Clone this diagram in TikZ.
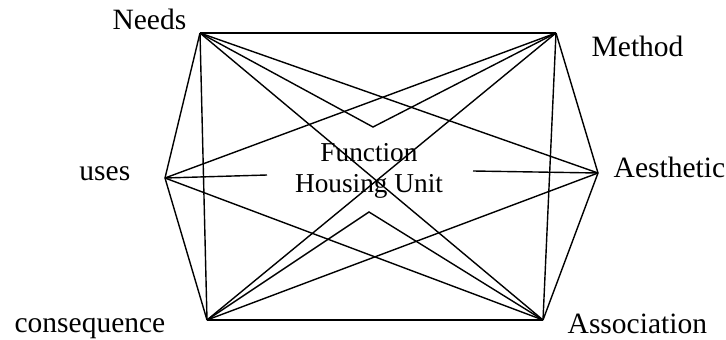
\documentclass[tikz,border=0pt]{standalone}
\usepackage{fontspec}
\setmainfont{Liberation Serif}
\usetikzlibrary{positioning}

\begin{document}
\begin{tikzpicture}[x=1pt,y=-1pt,line width=1.4pt,
        lbl/.style={inner sep=0pt,font=\fontsize{29.5}{33}\selectfont},
        mid/.style={inner sep=0pt,font=\fontsize{27.3}{31.6}\selectfont}]
        \useasboundingbox (0,0) rectangle (726,340);
        % corners of the hexagon
        \coordinate (needs) at (200,33);
        \coordinate (method) at (556,33);
        \coordinate (uses) at (165,178);
        \coordinate (aesth) at (598,173);
        \coordinate (cons) at (207,320);
        \coordinate (assoc) at (543,320);
        % points next to the centre text
        \coordinate (vtop) at (373,127);
        \coordinate (vbot) at (369,212);
        \coordinate (cl) at (267,175);
        \coordinate (cr) at (473,171);
        % labels
        \node[lbl,anchor=base east] (needsl) at (187,30) {Needs};
        \node[lbl,anchor=base west] (methodl) at (591,56) {Method};
        \node[lbl,anchor=base east] (usesl) at (131,180) {uses};
        \node[lbl,anchor=base west] (aesthl) at (613,177) {Aesthetic};
        \node[lbl,anchor=base east] (consl) at (166,332) {consequence};
        \node[lbl,anchor=base west] (assocl) at (567,333) {Association};
        \node[mid,align=center] (func) at (369,171) {Function\\Housing Unit};
        % connectors
        \draw (needs) -- (method);
        \draw (needs) -- (uses);
        \draw (needs) -- (cons);
        \draw (needs) -- (assoc);
        \draw (needs) -- (aesth);
        \draw (needs) -- (vtop) -- (method);
        \draw (method) -- (aesth);
        \draw (method) -- (assoc);
        \draw (method) -- (uses);
        \draw (method) -- (cons);
        \draw (uses) -- (cons);
        \draw (uses) -- (assoc);
        \draw (uses) -- (cl);
        \draw (aesth) -- (cr);
        \draw (aesth) -- (cons);
        \draw (aesth) -- (assoc);
        \draw (cons) -- (assoc);
        \draw (cons) -- (vbot) -- (assoc);
    \end{tikzpicture}
\end{document}
